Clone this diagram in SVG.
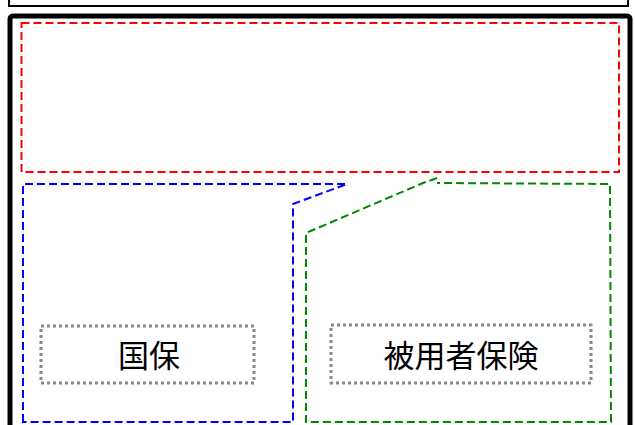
<svg xmlns="http://www.w3.org/2000/svg" width="635" height="425" viewBox="0 0 635 425">
<style>
.frame{fill:none;stroke:#000}
.dash{fill:none;stroke-width:2;stroke-dasharray:8,4}
.dot{fill:#fff;stroke:#888;stroke-width:3;stroke-dasharray:3,3}
.lbl{font-family:"Noto Sans CJK JP","Noto Sans CJK SC",sans-serif;font-size:31px;fill:#000;text-anchor:middle}
</style>
<rect width="635" height="425" fill="#fff"/>
<g id="top-box"><rect class="frame" x="9" y="-6" width="619" height="12" stroke-width="2"/></g>
<g id="outer"><rect class="frame" x="10" y="16" width="620" height="420" rx="3" stroke-width="5"/></g>
<g id="connectors">
<rect id="red" class="dash" stroke="#f00" x="21.5" y="23" width="597.5" height="149"/>
<path id="blue" class="dash" stroke="#00f" d="M23,422 L23,184 L347,184 L293,204 L293,422 Z"/>
<path id="green" class="dash" stroke="#080" d="M437,178 L423,183 L306,233 L306,422 L611,422 L610,184 L437,183"/>
</g>
<g id="kokuho"><rect class="dot" x="41" y="326" width="213" height="57"/><text class="lbl" x="149" y="367">国保</text></g>
<g id="hiyousha"><rect class="dot" x="331" y="325" width="260" height="58"/><text class="lbl" x="461" y="367">被用者保険</text></g>
</svg>
